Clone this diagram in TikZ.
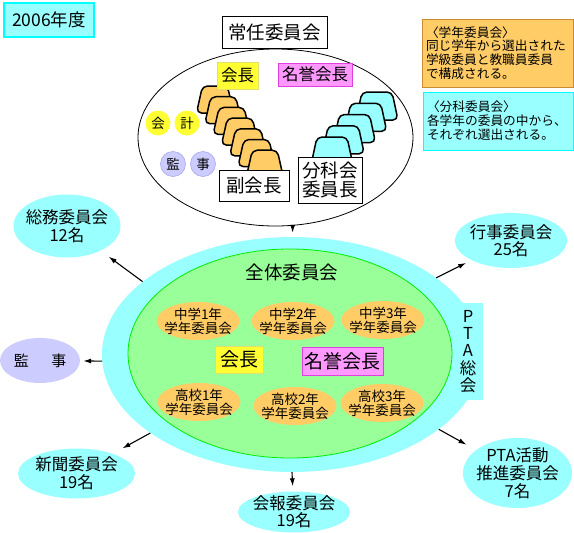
\documentclass[tikz,border=0pt]{standalone}
\usepackage{fontspec}
\setmainfont{Noto Sans CJK JP}
\usepackage{tikz}
\usetikzlibrary{shapes.geometric}
\usetikzlibrary{arrows.meta}
\definecolor{sky}{HTML}{99FFFF}
\definecolor{skyline}{HTML}{00FFFF}
\definecolor{leaf}{HTML}{99FF99}
\definecolor{leafline}{HTML}{00EE00}
\definecolor{peach}{HTML}{FFCC66}
\definecolor{peachline}{HTML}{CC8A33}
\definecolor{lemon}{HTML}{FFFF33}
\definecolor{lemonline}{HTML}{E0E070}
\definecolor{rose}{HTML}{FF99FF}
\definecolor{roseline}{HTML}{E040E0}
\definecolor{lilac}{HTML}{CCCCFF}
\definecolor{lilacline}{HTML}{A8A8EE}

\begin{document}
\begin{tikzpicture}
    [
    x=1pt, y=-1pt,
    box/.style={draw, fill=white, line width=0.8pt, inner sep=0pt},
    tag/.style={inner sep=0pt, line width=0.8pt},
    oval/.style={ellipse, inner sep=0pt},
    grade/.style={oval, fill=peach, minimum width=83pt, minimum height=38pt},
    gtext/.style={align=center, font=\fontsize{13.5}{14}\selectfont},
    branch/.style={oval, fill=sky},
    btext/.style={align=center, font=\fontsize{16.5}{17.5}\selectfont},
    coin/.style={circle, inner sep=0pt, minimum size=25pt, font=\fontsize{13.5}{13.5}\selectfont},
    tomb/.style={draw, line width=1.5pt, rounded corners=5pt, line join=round},
    arr/.style={-{Latex[length=8pt,width=5pt]}, line width=1.1pt},
    ]
    \useasboundingbox (0,0) rectangle (574,533);

    % year
    \node (year) at (49,20) [draw=skyline, fill=sky, line width=1.5pt, minimum width=90pt,
      minimum height=34pt, font=\fontsize{17.5}{17.5}\selectfont] {2006年度};

    % standing committee
    \node (board) at (275.5,137.5) [oval, draw, line width=0.8pt, minimum width=275pt, minimum height=177pt] {};
    \node (bt) at (274.5,32) [box, minimum width=105pt, minimum height=32pt,
      font=\fontsize{18.5}{18.5}\selectfont] {常任委員会};
    \foreach \i in {0,...,6}
      \draw [tomb, fill=peach, shift={(\i*8.3,\i*10.7)}]
        (196.5,113) -- (202.5,86) -- (227.5,86) -- (233.5,113) -- cycle;
    \foreach \i in {0,...,4}
      \draw [tomb, fill=sky, shift={(-\i*11.25,\i*11.25)}]
        (356,120) -- (362,92) -- (392,92) -- (398,120) -- cycle;
    \node (p1) at (237.5,75.5) [tag, draw=lemonline, fill=lemon, minimum width=41pt, minimum height=27pt,
      font=\fontsize{16.5}{16.5}\selectfont] {会長};
    \node (h1) at (315,74.5) [tag, draw=roseline, fill=rose, minimum width=74pt, minimum height=23pt,
      font=\fontsize{16.5}{16.5}\selectfont] {名誉会長};
    \node (c1) at (158,123) [coin, fill=lemon] {会};
    \node (c2) at (187,123) [coin, fill=lemon] {計};
    \node (a1) at (173,164) [coin, fill=lilac, draw=lilacline, line width=0.6pt] {監};
    \node (a2) at (203,164) [coin, fill=lilac, draw=lilacline, line width=0.6pt] {事};
    \node (vp) at (254,185.5) [box, minimum width=70pt, minimum height=31pt,
      font=\fontsize{18.5}{18.5}\selectfont] {副会長};
    \node (sc) at (330,180) [box, minimum width=64pt, minimum height=46pt, align=center,
      font=\fontsize{18.5}{18.5}\selectfont] {分科会\\委員長};

    % notes
    \node (n1) at (497.5,53) [draw=peachline, fill=peach, line width=0.8pt, inner xsep=4pt, inner ysep=0pt,
      text width=143pt, minimum height=68pt, align=left, font=\fontsize{12.7}{13.7}\selectfont]
      {〈学年委員会〉\\同じ学年から選出された\\学級委員と教職員委員\\で構成される。};
    \node (n2) at (498,121) [draw=skyline, fill=sky, line width=0.8pt, inner xsep=4pt, inner ysep=0pt,
      text width=142pt, minimum height=58pt, align=left, font=\fontsize{12.7}{14}\selectfont]
      {〈分科委員会〉\\各学年の委員の中から、\\それぞれ選出される。};

    % general assembly
    \node (pta) at (292,354.5) [oval, fill=sky, minimum width=380pt, minimum height=235pt] {};
    \node (tab) at (468,351.5) [fill=sky, inner sep=0pt, minimum width=30pt, minimum height=97pt,
      align=center, font=\fontsize{16.5}{17.25}\selectfont] {P\\T\\A\\総\\会};
    \node (all) at (290,353.5) [oval, draw=leafline, fill=leaf, line width=0.8pt,
      minimum width=324pt, minimum height=209pt] {};
    \node (at) at (292,272) [font=\fontsize{18.5}{18.5}\selectfont] {全体委員会};

    \node (j1) at (198,321) [grade, label={[gtext]center:中学1年\\学年委員会}] {};
    \node (j2) at (293,321) [grade, label={[gtext]center:中学2年\\学年委員会}] {};
    \node (j3) at (383,320) [grade, label={[gtext]center:中学3年\\学年委員会}] {};
    \node (s1) at (199,402) [grade, label={[gtext]center:高校1年\\学年委員会}] {};
    \node (s2) at (295,406) [grade, label={[gtext]center:高校2年\\学年委員会}] {};
    \node (s3) at (382,403) [grade, label={[gtext]center:高校3年\\学年委員会}] {};

    \node (p2) at (239,359.5) [tag, draw=lemonline, fill=lemon, minimum width=48pt, minimum height=27pt,
      font=\fontsize{19}{19}\selectfont] {会長};
    \node (h2) at (342.5,361) [tag, draw=roseline, fill=rose, minimum width=81pt, minimum height=28pt,
      font=\fontsize{19}{19}\selectfont] {名誉会長};

    % branches
    \node (soumu) at (67,226) [branch, minimum width=107pt, minimum height=63pt,
      label={[btext]center:総務委員会\\12名}] {};
    \node (gyouji) at (511,240.5) [branch, minimum width=112pt, minimum height=55pt,
      label={[btext]center:行事委員会\\25名}] {};
    \node (kanji) at (40,360.5) [oval, fill=lilac, minimum width=80pt, minimum height=45pt,
      label={[font=\fontsize{15}{15}\selectfont]center:監\hspace{1.5em}事}] {};
    \node (shinbun) at (76.5,473.5) [branch, minimum width=117pt, minimum height=50pt,
      label={[btext]center:新聞委員会\\19名}] {};
    \node (kaihou) at (294,512) [branch, minimum width=112pt, minimum height=41pt,
      label={[btext]center:会報委員会\\19名}] {};
    \node (suishin) at (517.5,473) [branch, minimum width=109pt, minimum height=70pt,
      label={[btext, font=\fontsize{16.5}{18}\selectfont]center:PTA活動\\推進委員会\\7名}] {};

    \draw [arr, shorten >=4pt] (board.281) to (pta);
    \draw [arr, shorten >=10pt] (pta.154) to (soumu);
    \draw [arr, shorten >=6pt] (pta.28) to (gyouji);
    \draw [arr, shorten >=3pt] (pta.182) to (kanji);
    \draw [arr, shorten >=11pt] (pta.209) to (shinbun);
    \draw [arr, shorten >=5pt] (pta.270) to (kaihou);
    \draw [arr, shorten >=11pt] (pta.333) to (suishin);
  \end{tikzpicture}
\end{document}
